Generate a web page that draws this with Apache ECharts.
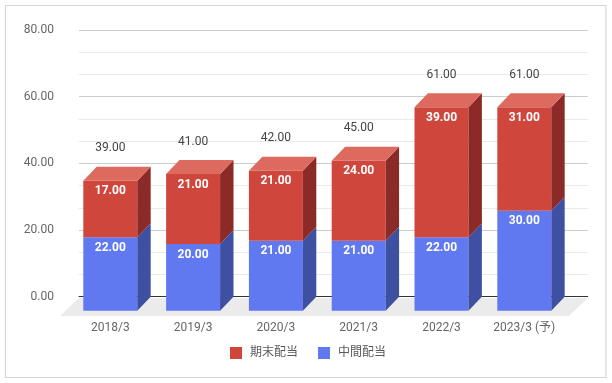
<!DOCTYPE html>
<html>
<head>
<meta charset="utf-8">
<script src="https://cdn.jsdelivr.net/npm/echarts@6/dist/echarts.min.js"></script>
<style>
html,body{margin:0;padding:0;background:#fff;}
#chart{width:612px;height:383px;}
</style>
</head>
<body>
<div id="chart"></div>
<script>
// ---- data ----
const categories = ['2018/3', '2019/3', '2020/3', '2021/3', '2022/3', '2023/3 (予)'];
const interimDividend = [22, 20, 21, 21, 22, 30];   // 中間配当
const yearEndDividend = [17, 21, 21, 24, 39, 31];   // 期末配当
const seriesNames = ['期末配当', '中間配当'];
const yTicks = [0, 20, 40, 60, 80];

// ---- style constants ----
const DX = 13.4, DY = 14;
const FONT = 'Roboto, "Noto Sans CJK JP", sans-serif';
const RED = {front: '#cf463c', top: '#dc6a5f', side: '#8b2a26'};
const BLUE = {front: '#6078f0', top: '#7c90f4', side: '#3e50a2'};

const totals = interimDividend.map((v, i) => v + yearEndDividend[i]);
const blueData = interimDividend.map((v, i) => [i, 0, v, v, 0]);
const redData = yearEndDividend.map((v, i) => [i, interimDividend[i], interimDividend[i] + v, v, 1]);
const totalData = totals.map((t, i) => [i, t]);

function barRender(colors) {
  return function (params, api) {
    const i = api.value(0), lo = api.value(1), hi = api.value(2), v = api.value(3), isTop = api.value(4);
    const band = api.size([1, 0])[0];
    const bw = band * 0.652;
    const c0 = api.coord([i, lo]);
    const c1 = api.coord([i, hi]);
    const x0 = c0[0] - bw / 2, x1 = c0[0] + bw / 2;
    const yb = c0[1] + DY, yt = c1[1] + DY;
    const children = [
      {type: 'rect', shape: {x: x0, y: yt, width: bw, height: yb - yt}, style: {fill: colors.front}},
      {type: 'polygon', shape: {points: [[x1, yt], [x1 + DX, yt - DY], [x1 + DX, yb - DY], [x1, yb]]}, style: {fill: colors.side}}
    ];
    if (isTop) {
      children.push({type: 'polygon', shape: {points: [[x0, yt], [x0 + DX, yt - DY], [x1 + DX, yt - DY], [x1, yt]]}, style: {fill: colors.top}});
    }
    children.push({type: 'text', style: {text: v.toFixed(2), x: c0[0], y: yt + 10.5, align: 'center', verticalAlign: 'middle', fill: '#ffffff', font: 'bold 12px ' + FONT}});
    return {type: 'group', children: children};
  };
}

const chart = echarts.init(document.getElementById('chart'), null, {renderer: 'canvas'});
chart.setOption({
  animation: false,
  backgroundColor: '#ffffff',
  graphic: [{
    type: 'rect', z: -10, silent: true,
    shape: {x: 5.5, y: 5.5, width: 600.5, height: 372},
    style: {fill: 'none', stroke: '#d6d6d6', lineWidth: 1.2}
  }],
  legend: {
    data: seriesNames,
    left: 230, top: 347, padding: 0,
    icon: 'rect', itemWidth: 12, itemHeight: 12, itemGap: 20,
    textStyle: {fontSize: 12, color: '#5a5a5a', fontFamily: FONT, padding: [0, 0, 0, 3]}
  },
  grid: [
    {left: 68.9, right: 46.3, top: 30, bottom: 86.3},
    {left: 79, right: 24.3, top: 30, bottom: 86.3}
  ],
  xAxis: [
    {gridIndex: 0, type: 'category', data: categories,
      axisLine: {show: false}, axisTick: {show: false}, splitLine: {show: false},
      axisLabel: {margin: 24, color: '#666666', fontSize: 12, fontFamily: FONT, lineHeight: 14, interval: 0}},
    {gridIndex: 1, type: 'value', min: 0, max: 1,
      axisLine: {show: true, lineStyle: {color: '#333333', width: 1}},
      axisTick: {show: false}, axisLabel: {show: false}, splitLine: {show: false}}
  ],
  yAxis: [
    {gridIndex: 0, type: 'value', min: yTicks[0], max: yTicks[yTicks.length - 1], show: false},
    {gridIndex: 1, type: 'value', min: yTicks[0], max: yTicks[yTicks.length - 1], interval: yTicks[1] - yTicks[0],
      axisLine: {show: false}, axisTick: {show: false},
      axisLabel: {margin: 25, color: '#666666', fontSize: 12, fontFamily: FONT, formatter: v => v.toFixed(2)},
      splitLine: {lineStyle: {color: '#cccccc', width: 1}},
      minorTick: {show: false, splitNumber: 3},
      minorSplitLine: {show: true, lineStyle: {color: '#e9e9e9', width: 1}}}
  ],
  series: [
    {type: 'custom', name: 'floor', xAxisIndex: 1, yAxisIndex: 1, z: 1, silent: true,
      data: [[0, 0]],
      renderItem: function (params, api) {
        const p0 = api.coord([0, 0]), p1 = api.coord([1, 0]);
        const yT = p0[1] + 1.2, yB = p0[1] + 19.3;
        return {type: 'polygon', shape: {points: [[p0[0], yT], [p1[0], yT], [p1[0] - 19, yB], [p0[0] - 19, yB]]}, style: {fill: '#ebebeb'}};
      }},
    {type: 'custom', name: seriesNames[1], xAxisIndex: 0, yAxisIndex: 0, z: 3,
      itemStyle: {color: BLUE.front}, data: blueData, renderItem: barRender(BLUE)},
    {type: 'custom', name: seriesNames[0], xAxisIndex: 0, yAxisIndex: 0, z: 4,
      itemStyle: {color: RED.front}, data: redData, renderItem: barRender(RED)},
    {type: 'custom', name: 'total', xAxisIndex: 0, yAxisIndex: 0, z: 5, silent: true,
      data: totalData,
      renderItem: function (params, api) {
        const c = api.coord([api.value(0), api.value(1)]);
        return {type: 'text', style: {text: api.value(1).toFixed(2), x: c[0], y: c[1] - 18.5, align: 'center', verticalAlign: 'middle', fill: '#444444', font: '12px ' + FONT}};
      }}
  ]
});
</script>
</body>
</html>
